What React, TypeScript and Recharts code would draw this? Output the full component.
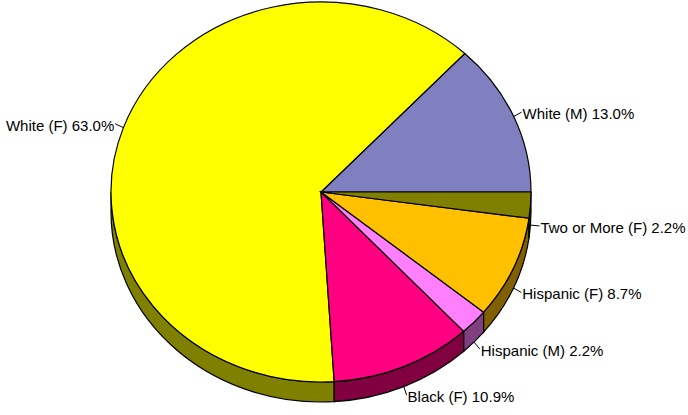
import { PieChart, Pie, Cell } from "recharts";

const categories = ["White (M)", "White (F)", "Black (F)", "Hispanic (M)", "Hispanic (F)", "Two or More (F)"];
const shares = [13.0, 63.0, 10.9, 2.2, 8.7, 2.2];

const topColors = ["#8080C0", "#FFFF00", "#FF0080", "#FF80FF", "#FFC000", "#808000"];
const sideColors = ["#404060", "#808000", "#800040", "#804080", "#806000", "#404000"];

// ellipse look of the tilted pie
const RX = 210;
const RY = 190;
const DEPTH = 20;

const data = categories.map((name, i) => ({ name, value: shares[i] }));

const RAD = Math.PI / 180;
const pt = (cx: number, cy: number, a: number, dy = 0) =>
  `${cx + RX * Math.cos(a * RAD)},${cy - RY * Math.sin(a * RAD) + dy}`;

function Slice3D(props: any) {
  const { cx, cy, startAngle, endAngle, fill, name } = props;
  const i = categories.indexOf(name ?? props.payload?.name);
  const a1 = Math.min(startAngle, endAngle);
  const a2 = Math.max(startAngle, endAngle);
  const large = a2 - a1 > 180 ? 1 : 0;
  const top = `M${cx},${cy} L${pt(cx, cy, a1)} A${RX},${RY} 0 ${large} 0 ${pt(cx, cy, a2)} Z`;

  let wall: string | null = null;
  if (a2 > 180) {
    const w1 = Math.max(a1, 180);
    wall =
      `M${pt(cx, cy, w1)} A${RX},${RY} 0 0 0 ${pt(cx, cy, a2)} ` +
      `L${pt(cx, cy, a2, DEPTH)} A${RX},${RY} 0 0 1 ${pt(cx, cy, w1, DEPTH)} Z`;
  }
  return (
    <g>
      {wall && <path d={wall} fill={sideColors[i]} stroke="#000" strokeWidth={1.2} />}
      <path d={top} fill={fill} stroke="#000" strokeWidth={1.2} />
    </g>
  );
}

function renderLabel(props: any) {
  const { cx, cy, midAngle, name, value } = props;
  const c = Math.cos(midAngle * RAD);
  const s = Math.sin(midAngle * RAD);
  const x0 = cx + RX * c;
  const y0 = cy - RY * s + (s < 0 ? DEPTH : 0);
  let dx = c;
  let dy = -s * 1.3;
  const len = Math.hypot(dx, dy);
  dx = (dx / len) * 9;
  dy = (dy / len) * 9;
  const x1 = x0 + dx;
  const y1 = y0 + dy;
  const right = c >= 0;
  return (
    <g>
      <line x1={x0} y1={y0} x2={x1} y2={y1} stroke="#000" strokeWidth={1} />
      <text
        x={x1 + (right ? 1 : -1)}
        y={y1 + 1.5}
        textAnchor={right ? "start" : "end"}
        dominantBaseline="central"
        fontFamily="'Liberation Sans', Arial, sans-serif"
        fontSize={15}
        fill="#000"
      >
        {`${name} ${value.toFixed(1)}%`}
      </text>
    </g>
  );
}

export default function App() {
  return (
    <div style={{ position: "absolute", left: 0, top: 0, width: 688, height: 415, background: "#fff" }}>
      <PieChart width={688} height={415} margin={{ top: 0, right: 0, bottom: 0, left: 0 }}>
        <Pie
          data={data}
          dataKey="value"
          nameKey="name"
          cx={321}
          cy={192}
          outerRadius={RX}
          startAngle={0}
          endAngle={360}
          stroke="#000"
          shape={Slice3D}
          activeShape={Slice3D}
          label={renderLabel}
          labelLine={false}
          isAnimationActive={false}
        >
          {data.map((d, i) => (
            <Cell key={d.name} fill={topColors[i]} />
          ))}
        </Pie>
      </PieChart>
    </div>
  );
}
